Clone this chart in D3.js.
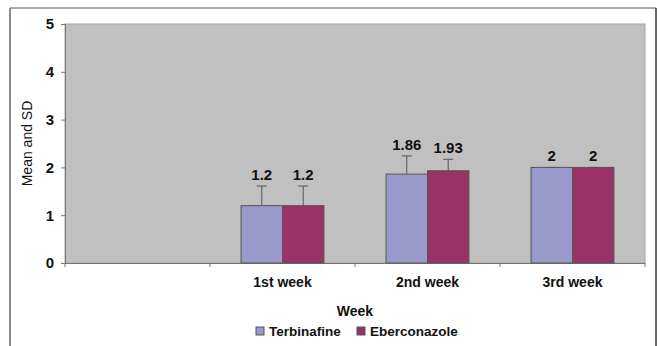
<!DOCTYPE html>
<html>
<head>
<meta charset="UTF-8">
<script src="https://d3js.org/d3.v7.min.js"></script>
<style>
  body { margin: 0; background: #fff; }
  text { font-family: "Liberation Sans", Arial, sans-serif; }
</style>
</head>
<body>
<div class="canvas"></div>
<script>
  const weeks = ['', '1st week', '2nd week', '3rd week'];
  const seriesNames = ['Terbinafine', 'Eberconazole'];
  const terbinafine = [null, 1.2, 1.86, 2];
  const eberconazole = [null, 1.2, 1.93, 2];
  const terbinafineSD = [null, 0.41, 0.38, 0];
  const eberconazoleSD = [null, 0.41, 0.24, 0];
  const valueLabels = [[null, '1.2', '1.86', '2'], [null, '1.2', '1.93', '2']];
  const yTicks = [0, 1, 2, 3, 4, 5];
  const colors = ['#9999cc', '#993366'];

  const width = 658, height = 346;
  const [ml, mt, mr, mb] = [65, 24, 13, 83];
  const gw = width - ml - mr;
  const gh = height - mt - mb;

  const svg = d3.select('.canvas').append('svg')
    .attr('width', width).attr('height', height);

  // outer frame
  svg.append('line').attr('x1', 10).attr('x2', 10).attr('y1', 8).attr('y2', height)
    .attr('stroke', '#8c8c8c').attr('stroke-width', 2);
  svg.append('line').attr('x1', 10).attr('x2', 656).attr('y1', 8).attr('y2', 8)
    .attr('stroke', '#8c8c8c').attr('stroke-width', 1.5);
  svg.append('line').attr('x1', 656).attr('x2', 656).attr('y1', 8).attr('y2', height)
    .attr('stroke', '#333').attr('stroke-width', 1.5);

  const g = svg.append('g').attr('transform', `translate(${ml},${mt})`);

  const x = d3.scaleBand().domain(weeks).range([0, gw]);
  const xs = d3.scaleBand().domain(seriesNames).range([0, x.bandwidth()])
    .paddingOuter(0.75).paddingInner(0);
  const y = d3.scaleLinear().domain([0, 5]).range([gh, 0]);

  g.append('rect').attr('width', gw).attr('height', gh)
    .attr('fill', '#c0c0c0').attr('stroke', '#a6a6a6');

  const yAxis = g.append('g').call(d3.axisLeft(y).tickValues(yTicks)
    .tickFormat(d3.format('d')).tickSize(4).tickPadding(7));
  yAxis.select('.domain').attr('stroke', '#777');
  yAxis.selectAll('line').attr('stroke', '#777');
  yAxis.selectAll('text').attr('font-size', 15).attr('font-weight', 'bold').attr('fill', '#111');

  const xAxis = g.append('g').attr('transform', `translate(0,${gh})`)
    .call(d3.axisBottom(x).tickSize(0).tickPadding(14));
  xAxis.select('.domain').attr('stroke', '#777');
  xAxis.selectAll('text').attr('font-size', 14).attr('font-weight', 'bold').attr('fill', '#111');
  // category separators
  g.append('g').selectAll('line').data(weeks.concat(['end'])).join('line')
    .attr('x1', (d, i) => i * x.step()).attr('x2', (d, i) => i * x.step())
    .attr('y1', gh).attr('y2', gh + 4).attr('stroke', '#777');

  const series = [
    { name: seriesNames[0], vals: terbinafine, sd: terbinafineSD, lab: valueLabels[0], color: colors[0] },
    { name: seriesNames[1], vals: eberconazole, sd: eberconazoleSD, lab: valueLabels[1], color: colors[1] }
  ];

  series.forEach(s => {
    const pts = weeks.map((w, i) => ({ w, v: s.vals[i], sd: s.sd[i], lab: s.lab[i] }))
      .filter(d => d.v !== null);
    const sg = g.append('g');
    const cx = d => x(d.w) + xs(s.name) + xs.bandwidth() / 2;
    sg.selectAll('line.err').data(pts).join('line')
      .attr('x1', cx).attr('x2', cx)
      .attr('y1', d => y(d.v)).attr('y2', d => y(d.v + d.sd))
      .attr('stroke', '#555');
    sg.selectAll('line.cap').data(pts).join('line')
      .attr('x1', d => cx(d) - 5).attr('x2', d => cx(d) + 5)
      .attr('y1', d => y(d.v + d.sd)).attr('y2', d => y(d.v + d.sd))
      .attr('stroke', '#555');
    sg.selectAll('rect').data(pts).join('rect')
      .attr('x', d => x(d.w) + xs(s.name))
      .attr('y', d => y(d.v))
      .attr('width', xs.bandwidth())
      .attr('height', d => gh - y(d.v))
      .attr('fill', s.color).attr('stroke', '#555').attr('stroke-width', 1);
    sg.selectAll('text').data(pts).join('text')
      .attr('x', cx)
      .attr('y', d => y(d.v + d.sd) - 6)
      .attr('text-anchor', 'middle')
      .attr('font-size', 15).attr('font-weight', 'bold').attr('fill', '#111')
      .text(d => d.lab);
  });

  svg.append('text')
    .attr('transform', `translate(32,${mt + gh / 2}) rotate(-90)`)
    .attr('text-anchor', 'middle')
    .attr('font-size', 14).attr('fill', '#111')
    .text('Mean and SD');

  svg.append('text')
    .attr('x', 355).attr('y', 316)
    .attr('text-anchor', 'middle')
    .attr('font-size', 14).attr('font-weight', 'bold').attr('fill', '#111')
    .text('Week');

  const legendX = [256, 357];
  const lg = svg.append('g');
  seriesNames.forEach((n, i) => {
    lg.append('rect').attr('x', legendX[i]).attr('y', 327).attr('width', 8).attr('height', 8)
      .attr('fill', colors[i]).attr('stroke', '#555');
    lg.append('text').attr('x', legendX[i] + 13).attr('y', 336)
      .attr('font-size', 13.5).attr('font-weight', 'bold').attr('fill', '#111')
      .text(n);
  });
</script>
</body>
</html>
